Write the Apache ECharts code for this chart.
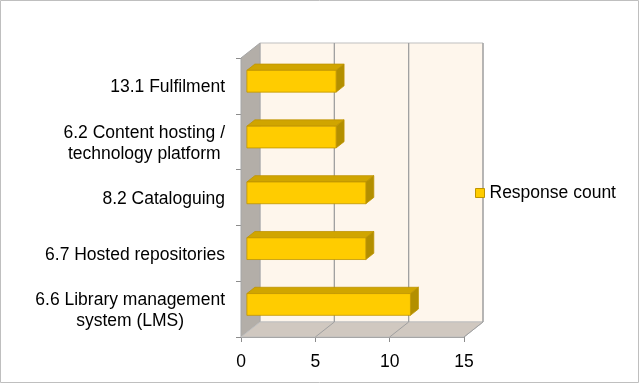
<!DOCTYPE html>
<html>
<head>
<meta charset="utf-8">
<script src="https://cdn.jsdelivr.net/npm/echarts@6/dist/echarts.min.js"></script>
<style>
html,body{margin:0;padding:0;background:#fff;}
#c{width:640px;height:384px;}
</style>
</head>
<body>
<div id="c"></div>
<script>
const categories = [
  '13.1 Fulfilment',
  '6.2 Content hosting /\ntechnology platform',
  '8.2 Cataloguing',
  '6.7 Hosted repositories',
  '6.6 Library management\nsystem (LMS)'
];
const responseCount = [6, 6, 8, 8, 11];
const xTicks = [0, 5, 10, 15];
const seriesName = 'Response count';

const DX = 19, DY = -15;       // depth offset of back plane
const F0 = 0.31, F1 = 0.73;    // bar depth range (fraction)
const BAR_H = 0.39;            // bar thickness as fraction of band
const FONT = 'Liberation Sans, Arial, sans-serif';

const chart = echarts.init(document.getElementById('c'));

function wallsRender(params, api) {
  const cs = params.coordSys;
  const x0 = cs.x, y0 = cs.y, x1 = cs.x + cs.width, y1 = cs.y + cs.height;
  const ch = [];
  ch.push({type:'polygon', shape:{points:[[x0+DX,y0+DY],[x1+DX,y0+DY],[x1+DX,y1+DY],[x0+DX,y1+DY]]},
    style:{fill:'#FEF6EC', stroke:'#BFBFBF', lineWidth:1}});
  ch.push({type:'polygon', shape:{points:[[x0,y0],[x0+DX,y0+DY],[x0+DX,y1+DY],[x0,y1]]},
    style:{fill:'#B3AEA8', stroke:'#A6A6A6', lineWidth:1}});
  ch.push({type:'polygon', shape:{points:[[x0,y1],[x0+DX,y1+DY],[x1+DX,y1+DY],[x1,y1]]},
    style:{fill:'#D0C8C0', stroke:'#BFBFBF', lineWidth:1}});
  xTicks.forEach(function (t) {
    const px = api.coord([t, 0])[0];
    if (t > 0) {
      ch.push({type:'line', shape:{x1:px, y1:y1, x2:px+DX, y2:y1+DY},
        style:{stroke:'#A0A0A0', lineWidth:1}});
      ch.push({type:'line', shape:{x1:px+DX, y1:y1+DY, x2:px+DX, y2:y0+DY},
        style:{stroke:'#A0A0A0', lineWidth:1.3}});
    }
  });
  return {type:'group', children: ch};
}

function barRender(params, api) {
  const v = api.value(0), c = api.value(1);
  const p0 = api.coord([0, c]);
  const p1 = api.coord([v, c]);
  const band = api.size([0, 1])[1];
  const h = band * BAR_H;
  const ox = DX * F0, oy = DY * F0;
  const ex = DX * (F1 - F0), ey = DY * (F1 - F0);
  const xl = p0[0] + ox, xr = p1[0] + ox;
  const yt = p0[1] + oy - h / 2, yb = yt + h;
  const stroke = '#BF9400';
  return {type:'group', children:[
    {type:'polygon', shape:{points:[[xl,yt],[xr,yt],[xr+ex,yt+ey],[xl+ex,yt+ey]]},
      style:{fill:'#D0A500', stroke:stroke, lineWidth:0.8}},
    {type:'polygon', shape:{points:[[xr,yt],[xr+ex,yt+ey],[xr+ex,yb+ey],[xr,yb]]},
      style:{fill:'#B38F00', stroke:stroke, lineWidth:0.8}},
    {type:'polygon', shape:{points:[[xl,yt],[xr,yt],[xr,yb],[xl,yb]]},
      style:{fill:'#FFCC00', stroke:stroke, lineWidth:0.8}}
  ]};
}

const option = {
  animation: false,
  backgroundColor: '#fff',
  textStyle: {fontFamily: FONT},
  graphic: [{type:'rect', shape:{x:0.5, y:0.5, width:638, height:382},
    style:{fill:'none', stroke:'#BFBFBF', lineWidth:1}, z:100}],
  grid: {left: 241, top: 58, width: 223, height: 279},
  legend: {
    left: 475, top: 184, padding: 0,
    itemWidth: 9, itemHeight: 9,
    data: [{name: seriesName, icon: 'rect',
      itemStyle: {color: '#FFCC00', borderColor: '#BF9400', borderWidth: 1}}],
    textStyle: {fontSize: 17.5, color: '#000', fontFamily: FONT}
  },
  xAxis: {
    type: 'value', min: 0, max: 15, interval: 5,
    axisLine: {show: true, lineStyle: {color: '#8C8C8C', width: 1}},
    axisTick: {show: true, length: 5, lineStyle: {color: '#8C8C8C'}},
    splitLine: {show: false},
    axisLabel: {fontSize: 17.5, color: '#000', margin: 16}
  },
  yAxis: {
    type: 'category', data: categories, inverse: true,
    axisLine: {show: true, lineStyle: {color: '#8C8C8C', width: 1}},
    axisTick: {show: true, length: 5, lineStyle: {color: '#8C8C8C'}},
    splitLine: {show: false},
    axisLabel: {
      margin: 16, color: '#000',
      formatter: function (val) {
        return val.split('\n').map(function (l) { return '{c|' + l + '}'; }).join('\n');
      },
      rich: {c: {align: 'center', fontSize: 17.5, lineHeight: 21, color: '#000',
        fontFamily: FONT, padding: [3, 0, 0, 0]}}
    }
  },
  series: [
    {type: 'custom', name: 'walls', renderItem: wallsRender, data: [[0, 0]],
      encode: {x: 0, y: 1}, z: 1, silent: true},
    {type: 'custom', name: seriesName, renderItem: barRender,
      data: responseCount.map(function (v, i) { return [v, i]; }),
      encode: {x: 0, y: 1}, z: 3,
      itemStyle: {color: '#FFCC00'}}
  ]
};
chart.setOption(option);
</script>
</body>
</html>
